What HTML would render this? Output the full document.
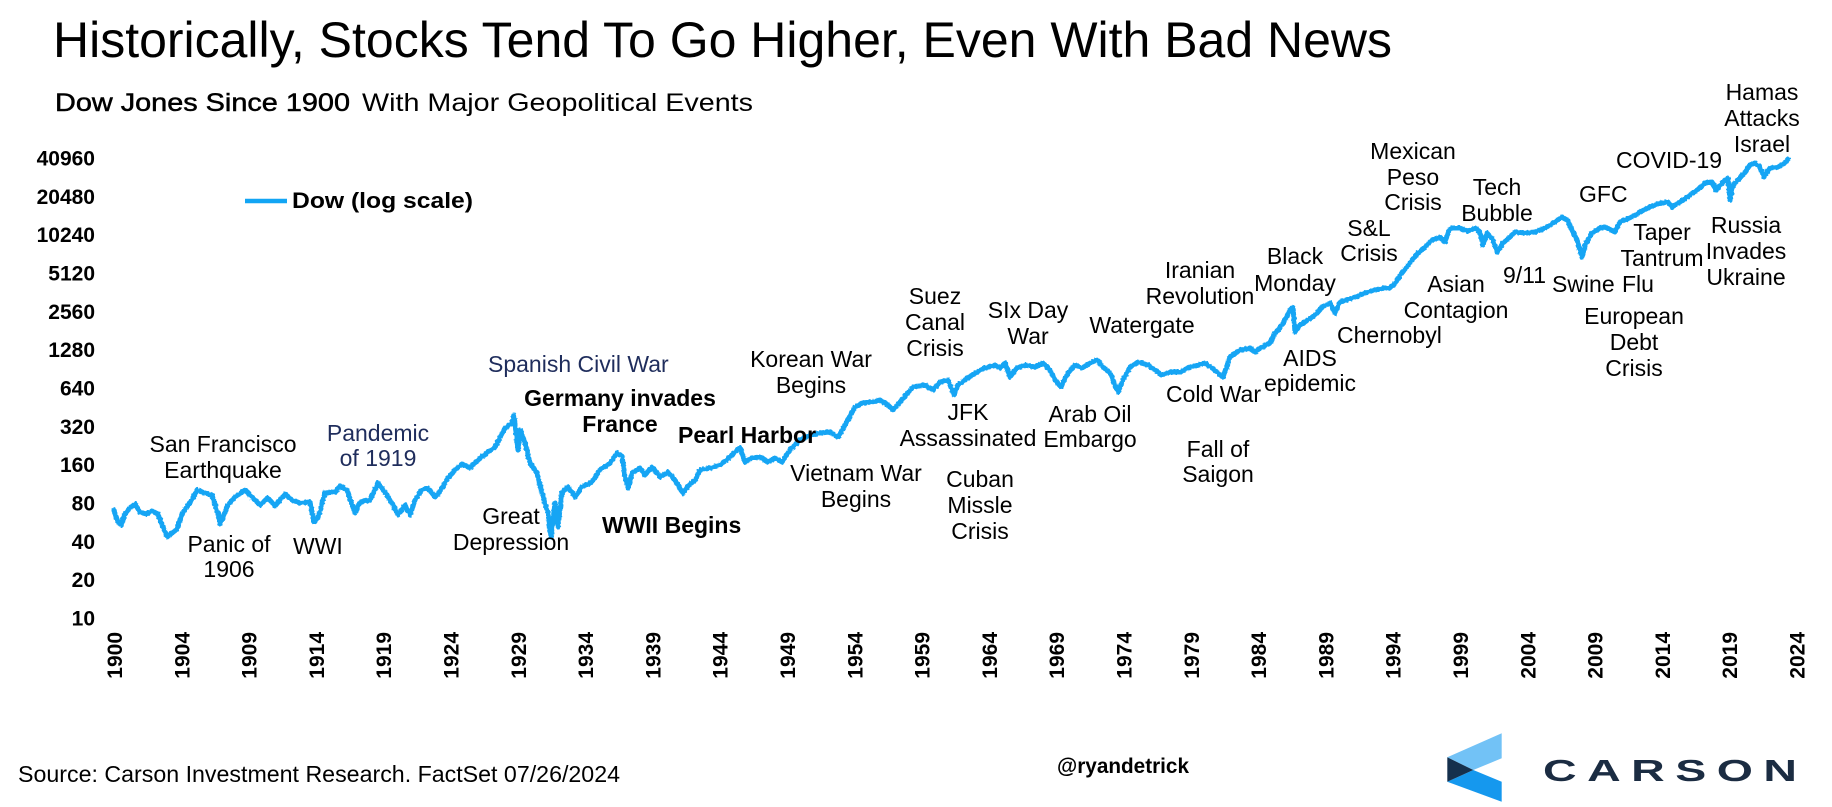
<!DOCTYPE html>
<html>
<head>
<meta charset="utf-8">
<style>
  html,body{margin:0;padding:0;background:#fff;}
  svg{display:block;}
  text{font-family:"Liberation Sans",Arial,sans-serif;fill:#000;}
  .ev{font-size:23px;}
  .evc{font-size:23px;text-anchor:middle;}
  .b{font-weight:bold;}
  .navy{fill:#1f2d5c;}
  .yl{font-size:21px;font-weight:bold;text-anchor:end;}
  .xl{font-size:21px;font-weight:bold;text-anchor:end;}
</style>
</head>
<body>
<svg width="1832" height="807" viewBox="0 0 1832 807" xmlns="http://www.w3.org/2000/svg">
  <defs>
    <filter id="jag" filterUnits="userSpaceOnUse" x="0" y="0" width="1832" height="807">
      <feTurbulence type="fractalNoise" baseFrequency="0.45" numOctaves="1" seed="3" result="n"/>
      <feDisplacementMap in="SourceGraphic" in2="n" scale="3" xChannelSelector="R" yChannelSelector="G"/>
    </filter>
  </defs>
  <rect width="1832" height="807" fill="#fff"/>

  <!-- Title -->
  <text x="53" y="57" font-size="50" textLength="1339" lengthAdjust="spacingAndGlyphs">Historically, Stocks Tend To Go Higher, Even With Bad News</text>
  <!-- Subtitle -->
  <text x="55" y="111" font-size="25" textLength="295" lengthAdjust="spacingAndGlyphs" stroke="#000" stroke-width="0.5">Dow Jones Since 1900</text>
  <text x="362" y="111" font-size="25" textLength="391" lengthAdjust="spacingAndGlyphs">With Major Geopolitical Events</text>

  <!-- Y axis labels -->
  <text class="yl" x="95" y="165.5">40960</text>
  <text class="yl" x="95" y="203.8">20480</text>
  <text class="yl" x="95" y="242.2">10240</text>
  <text class="yl" x="95" y="280.5">5120</text>
  <text class="yl" x="95" y="318.8">2560</text>
  <text class="yl" x="95" y="357.2">1280</text>
  <text class="yl" x="95" y="395.5">640</text>
  <text class="yl" x="95" y="433.8">320</text>
  <text class="yl" x="95" y="472.2">160</text>
  <text class="yl" x="95" y="510.5">80</text>
  <text class="yl" x="95" y="548.8">40</text>
  <text class="yl" x="95" y="587.2">20</text>
  <text class="yl" x="95" y="625.5">10</text>

  <!-- X axis labels -->
  <g>
    <text class="xl" transform="translate(122,632) rotate(-90)">1900</text>
    <text class="xl" transform="translate(189.3,632) rotate(-90)">1904</text>
    <text class="xl" transform="translate(256.6,632) rotate(-90)">1909</text>
    <text class="xl" transform="translate(323.9,632) rotate(-90)">1914</text>
    <text class="xl" transform="translate(391.2,632) rotate(-90)">1919</text>
    <text class="xl" transform="translate(458.5,632) rotate(-90)">1924</text>
    <text class="xl" transform="translate(525.8,632) rotate(-90)">1929</text>
    <text class="xl" transform="translate(593.1,632) rotate(-90)">1934</text>
    <text class="xl" transform="translate(660.4,632) rotate(-90)">1939</text>
    <text class="xl" transform="translate(727.7,632) rotate(-90)">1944</text>
    <text class="xl" transform="translate(795,632) rotate(-90)">1949</text>
    <text class="xl" transform="translate(862.3,632) rotate(-90)">1954</text>
    <text class="xl" transform="translate(929.6,632) rotate(-90)">1959</text>
    <text class="xl" transform="translate(996.9,632) rotate(-90)">1964</text>
    <text class="xl" transform="translate(1064.2,632) rotate(-90)">1969</text>
    <text class="xl" transform="translate(1131.5,632) rotate(-90)">1974</text>
    <text class="xl" transform="translate(1198.8,632) rotate(-90)">1979</text>
    <text class="xl" transform="translate(1266.1,632) rotate(-90)">1984</text>
    <text class="xl" transform="translate(1333.4,632) rotate(-90)">1989</text>
    <text class="xl" transform="translate(1400.7,632) rotate(-90)">1994</text>
    <text class="xl" transform="translate(1468,632) rotate(-90)">1999</text>
    <text class="xl" transform="translate(1535.3,632) rotate(-90)">2004</text>
    <text class="xl" transform="translate(1602.6,632) rotate(-90)">2009</text>
    <text class="xl" transform="translate(1669.9,632) rotate(-90)">2014</text>
    <text class="xl" transform="translate(1737.2,632) rotate(-90)">2019</text>
    <text class="xl" transform="translate(1804.5,632) rotate(-90)">2024</text>
  </g>

  <!-- Legend -->
  <line x1="245" y1="201" x2="287" y2="201" stroke="#12a5f4" stroke-width="4.5"/>
  <text x="292" y="208" font-size="22" font-weight="bold" textLength="181" lengthAdjust="spacingAndGlyphs">Dow (log scale)</text>

  <!-- Dow line -->
  <polyline filter="url(#jag)" fill="none" stroke="#12a5f4" stroke-width="5" stroke-linejoin="round" stroke-linecap="round" points="
114,510 117,520 121,525 125,514 129,509 135,504 140,512 146,514 152,511 158,514 163,527 167,537 172,533 177,529 182,514 188,505 193,498 197,490 205,493 212,495 218,514 220,524 228,505 235,497 245,490 255,500 260,505 268,498 275,506 285,494 292,500 300,503 310,502 314,522 318,518 325,493 335,492 340,486 347,490 355,513 360,502 370,500 378,483 385,492 393,505 398,515 405,505 410,515 415,500 422,490 428,488 435,497 440,491 448,478 455,470 462,464 470,468 478,460 487,453 495,447 505,428 512,423 514,415 518,450 520,430 525,443 530,463 537,473 543,497 548,513 551,537 555,503 558,527 562,492 568,487 575,497 582,487 592,482 600,470 610,463 617,453 622,456 625,477 628,488 632,473 640,468 645,475 652,467 660,477 668,472 675,480 683,493 688,486 695,480 700,470 710,468 720,465 730,457 737,450 740,448 745,462 752,458 760,457 768,462 775,458 782,462 790,450 800,440 810,435 820,433 830,432 838,437 845,425 855,407 862,403 872,402 880,400 888,405 893,410 900,402 913,387 925,385 933,390 940,382 948,380 954,395 958,385 965,380 975,373 985,368 995,365 1000,368 1005,363 1010,377 1017,368 1025,365 1035,367 1043,363 1050,370 1055,380 1061,387 1068,373 1075,365 1082,368 1090,363 1097,360 1103,367 1110,373 1118,392 1123,380 1130,367 1138,362 1148,365 1155,370 1162,375 1170,372 1180,372 1190,367 1205,363 1212,368 1223,377 1230,357 1240,350 1250,348 1255,352 1262,347 1270,343 1275,333 1280,328 1285,320 1290,310 1293,307 1295,332 1300,325 1308,320 1315,315 1322,307 1330,303 1335,313 1340,302 1355,297 1365,293 1375,290 1385,288 1390,288 1395,283 1402,273 1410,263 1418,253 1425,247 1432,240 1440,237 1445,242 1448,232 1452,228 1460,228 1468,231 1475,228 1480,232 1483,245 1487,233 1493,240 1497,252 1503,243 1510,237 1515,232 1525,233 1535,232 1545,228 1555,222 1562,217 1567,220 1572,230 1577,240 1582,257 1586,243 1592,233 1600,228 1605,227 1615,232 1620,222 1630,218 1640,212 1650,207 1660,203 1668,202 1672,207 1680,202 1690,195 1700,188 1705,183 1712,182 1716,190 1722,183 1728,178 1730,200 1733,185 1740,178 1745,172 1750,165 1755,163 1760,167 1764,177 1770,168 1778,167 1785,163 1788,159"/>

  <!-- Event labels -->
  <text class="evc" x="223" y="452">San Francisco</text>
  <text class="evc" x="223" y="478">Earthquake</text>

  <text class="evc" x="229" y="552">Panic of</text>
  <text class="evc" x="229" y="577">1906</text>

  <text class="ev" x="293" y="554">WWI</text>

  <text class="evc navy" x="378" y="441">Pandemic</text>
  <text class="evc navy" x="378" y="466">of 1919</text>

  <text class="evc" x="511" y="524">Great</text>
  <text class="evc" x="511" y="550">Depression</text>

  <text class="ev navy" x="488" y="372">Spanish Civil War</text>

  <text class="evc b" x="620" y="406" font-size="21">Germany invades</text>
  <text class="evc b" x="620" y="432" font-size="21">France</text>

  <text class="ev b" x="602" y="533" font-size="21">WWII Begins</text>

  <text class="ev b" x="678" y="443" font-size="21">Pearl Harbor</text>

  <text class="evc" x="811" y="367">Korean War</text>
  <text class="evc" x="811" y="393">Begins</text>

  <text class="evc" x="856" y="481">Vietnam War</text>
  <text class="evc" x="856" y="507">Begins</text>

  <text class="evc" x="935" y="304">Suez</text>
  <text class="evc" x="935" y="330">Canal</text>
  <text class="evc" x="935" y="356">Crisis</text>

  <text class="evc" x="968" y="420">JFK</text>
  <text class="evc" x="968" y="446">Assassinated</text>

  <text class="evc" x="980" y="487">Cuban</text>
  <text class="evc" x="980" y="513">Missle</text>
  <text class="evc" x="980" y="539">Crisis</text>

  <text class="evc" x="1028" y="318">SIx Day</text>
  <text class="evc" x="1028" y="344">War</text>

  <text class="evc" x="1090" y="422">Arab Oil</text>
  <text class="evc" x="1090" y="447">Embargo</text>

  <text class="evc" x="1142" y="333">Watergate</text>

  <text class="evc" x="1200" y="278">Iranian</text>
  <text class="evc" x="1200" y="304">Revolution</text>

  <text class="ev" x="1166" y="402">Cold War</text>

  <text class="evc" x="1218" y="457">Fall of</text>
  <text class="evc" x="1218" y="482">Saigon</text>

  <text class="evc" x="1295" y="264">Black</text>
  <text class="evc" x="1295" y="291">Monday</text>

  <text class="evc" x="1310" y="366">AIDS</text>
  <text class="evc" x="1310" y="391">epidemic</text>

  <text class="evc" x="1369" y="236">S&amp;L</text>
  <text class="evc" x="1369" y="261">Crisis</text>

  <text class="ev" x="1337" y="343">Chernobyl</text>

  <text class="evc" x="1413" y="159">Mexican</text>
  <text class="evc" x="1413" y="185">Peso</text>
  <text class="evc" x="1413" y="210">Crisis</text>

  <text class="evc" x="1456" y="292">Asian</text>
  <text class="evc" x="1456" y="318">Contagion</text>

  <text class="evc" x="1497" y="195">Tech</text>
  <text class="evc" x="1497" y="221">Bubble</text>

  <text class="ev" x="1503" y="283">9/11</text>

  <text class="ev" x="1552" y="292">Swine</text>
  <text class="ev" x="1622" y="292">Flu</text>

  <text class="ev" x="1579" y="202">GFC</text>

  <text class="evc" x="1634" y="324">European</text>
  <text class="evc" x="1634" y="350">Debt</text>
  <text class="evc" x="1634" y="376">Crisis</text>

  <text class="evc" x="1662" y="240">Taper</text>
  <text class="evc" x="1662" y="266">Tantrum</text>

  <text class="ev" x="1616" y="168">COVID-19</text>

  <text class="evc" x="1762" y="100">Hamas</text>
  <text class="evc" x="1762" y="126">Attacks</text>
  <text class="evc" x="1762" y="152">Israel</text>

  <text class="evc" x="1746" y="233">Russia</text>
  <text class="evc" x="1746" y="259">Invades</text>
  <text class="evc" x="1746" y="285">Ukraine</text>

  <!-- Footer -->
  <text x="18" y="782" font-size="23" textLength="602" lengthAdjust="spacingAndGlyphs">Source: Carson Investment  Research. FactSet 07/26/2024</text>
  <text x="1057" y="773" font-size="21" font-weight="bold" textLength="132" lengthAdjust="spacingAndGlyphs">@ryandetrick</text>

  <!-- Carson logo -->
  <polygon points="1447.3,757.3 1501.7,733.3 1501.7,758.3 1473.3,770" fill="#72c2f6"/>
  <polygon points="1447.3,781.7 1473.3,770 1501.7,781.7 1501.7,801.7" fill="#1598ee"/>
  <polygon points="1447.3,757.3 1473.3,770 1447.3,781.7" fill="#15304d"/>
  <text transform="translate(1543,781) scale(1.5,1)" font-size="31" font-weight="bold" letter-spacing="7" style="fill:#1b2c42">CARSON</text>
</svg>
</body>
</html>
